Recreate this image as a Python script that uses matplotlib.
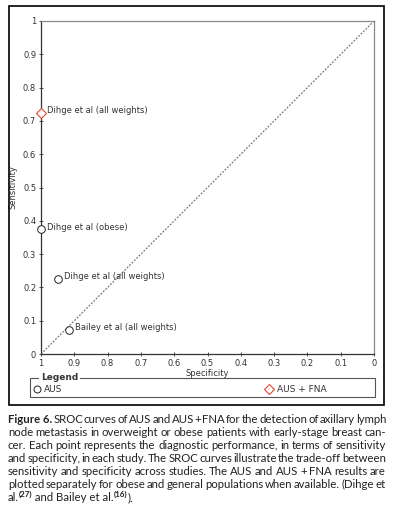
import matplotlib
matplotlib.use('Agg')
import matplotlib.pyplot as plt
from matplotlib.patches import Rectangle
from matplotlib.lines import Line2D

# data
aus_spec = [1.0, 0.949, 0.916]
aus_sens = [0.375, 0.225, 0.072]
aus_labels = ['Dihge et al (obese)', 'Dihge et al (all weights)', 'Bailey et al (all weights)']

fna_spec = [1.0]
fna_sens = [0.725]
fna_labels = ['Dihge et al (all weights)']

ticks = [1, 0.9, 0.8, 0.7, 0.6, 0.5, 0.4, 0.3, 0.2, 0.1, 0]
tick_labels = ['1', '0.9', '0.8', '0.7', '0.6', '0.5', '0.4', '0.3', '0.2', '0.1', '0']

caption_lines = [
    [('Figure 6.', 'bold'), 'SROC', 'curves', 'of', 'AUS', 'and', 'AUS', '+', 'FNA', 'for', 'the', 'detection', 'of', 'axillary', 'lymph'],
    ['node', 'metastasis', 'in', 'overweight', 'or', 'obese', 'patients', 'with', 'early-stage', 'breast', 'can-'],
    ['cer.', 'Each', 'point', 'represents', 'the', 'diagnostic', 'performance,', 'in', 'terms', 'of', 'sensitivity'],
    ['and', 'specificity,', 'in', 'each', 'study.', 'The', 'SROC', 'curves', 'illustrate', 'the', 'trade-off', 'between'],
    ['sensitivity', 'and', 'specificity', 'across', 'studies.', 'The', 'AUS', 'and', 'AUS', '+', 'FNA', 'results', 'are'],
    ['plotted', 'separately', 'for', 'obese', 'and', 'general', 'populations', 'when', 'available.', '(Dihge', 'et'],
]

W, H = 394, 517
red = '#e5462e'
cap_font = 'Lato'
cap_size = 8.2

fig = plt.figure(figsize=(W / 100, H / 100), dpi=100)


def px(x, y):
    return x / W, 1 - y / H


# outer frame
fig.add_artist(Rectangle(px(9, 405), 375 / W, 399 / H, transform=fig.transFigure,
                         fill=False, edgecolor='black', linewidth=1.2))

ax = fig.add_axes([41 / W, 1 - 354 / H, 333 / W, 333 / H])
ax.set_xlim(1, 0)
ax.set_ylim(0, 1)
ax.set_xticks(ticks)
ax.set_xticklabels(tick_labels)
ax.set_yticks(ticks)
ax.set_yticklabels(tick_labels)
ax.tick_params(labelsize=6, length=3, width=0.6, direction='inout', pad=2, colors='#333333')
for s in ['left', 'bottom']:
    ax.spines[s].set_color('#333333')
    ax.spines[s].set_linewidth(0.9)
for s in ['top', 'right']:
    ax.spines[s].set_color('#888888')
    ax.spines[s].set_linewidth(0.9)

ax.plot([1, 0], [0, 1], color='#777777', linestyle=(0, (1.5, 1.2)), linewidth=0.9)

ax.plot(aus_spec, aus_sens, linestyle='none', marker='o', markersize=5.5,
        markerfacecolor='white', markeredgecolor='#222222', markeredgewidth=0.7, clip_on=False, zorder=5)
ax.plot(fna_spec, fna_sens, linestyle='none', marker='D', markersize=5.5,
        markerfacecolor='white', markeredgecolor=red, markeredgewidth=0.8, clip_on=False, zorder=5)

for xs, ys, labs in [(aus_spec, aus_sens, aus_labels), (fna_spec, fna_sens, fna_labels)]:
    for x, y, lab in zip(xs, ys, labs):
        ax.annotate(lab, (x, y), xytext=(4, 1.5), textcoords='offset points',
                    fontsize=6, color='#333333', va='center', ha='left')

ax.set_xlabel('Specificity', fontsize=6, color='#333333', labelpad=1)
ax.set_ylabel('Sensitivity', fontsize=6, color='#333333', labelpad=4)

# legend box
fig.add_artist(Rectangle(px(30, 397), 345 / W, 19 / H, transform=fig.transFigure,
                         fill=False, edgecolor='#555555', linewidth=0.8))
fig.text(*px(41, 378), 'Legend', fontsize=6.5, fontweight='bold', color='#333333',
         ha='left', va='center',
         bbox=dict(facecolor='white', edgecolor='none', pad=1.5))
fig.add_artist(Line2D([37 / W], [1 - 389 / H], marker='o', markersize=5,
                      markerfacecolor='white', markeredgecolor='#222222', markeredgewidth=0.7,
                      transform=fig.transFigure))
fig.text(*px(44, 389), 'AUS', fontsize=6.5, color='#333333', ha='left', va='center')
fig.add_artist(Line2D([269 / W], [1 - 389 / H], marker='D', markersize=5,
                      markerfacecolor='white', markeredgecolor=red, markeredgewidth=0.8,
                      transform=fig.transFigure))
fig.text(*px(277, 389), 'AUS + FNA', fontsize=6.5, color='#333333', ha='left', va='center')

# caption, justified by hand
renderer = fig.canvas.get_renderer()


def word_width(s, weight, size=cap_size):
    t = fig.text(0, 0, s, fontsize=size, fontweight=weight, family=cap_font)
    w = t.get_window_extent(renderer).width
    t.remove()
    return w


x0, x1 = 8, 386
baselines = [423, 436, 449, 462, 475, 488, 501]
for line, yb in zip(caption_lines, baselines):
    words = [w if isinstance(w, tuple) else (w, 'normal') for w in line]
    widths = [word_width(s, wt) for s, wt in words]
    gap = (x1 - x0 - sum(widths)) / (len(words) - 1)
    x = x0
    for (s, wt), w in zip(words, widths):
        fig.text(*px(x, yb), s, fontsize=cap_size, fontweight=wt, family=cap_font,
                 color='#222222', ha='left', va='baseline')
        x += w + gap

# last line with superscripts
x = x0
for s, kind in [('al.', 'n'), ('(27)', 's'), (' and Bailey et al.', 'n'), ('(16)', 's'), (').', 'n')]:
    if kind == 's':
        fig.text(*px(x, 497), s, fontsize=5.8, fontweight='bold', family=cap_font,
                 color='#222222', ha='left', va='baseline')
        x += word_width(s, 'bold', 5.8)
    else:
        fig.text(*px(x, 501), s, fontsize=cap_size, family=cap_font,
                 color='#222222', ha='left', va='baseline')
        x += word_width(s, 'normal')

fig.savefig('out.png', dpi=100)
